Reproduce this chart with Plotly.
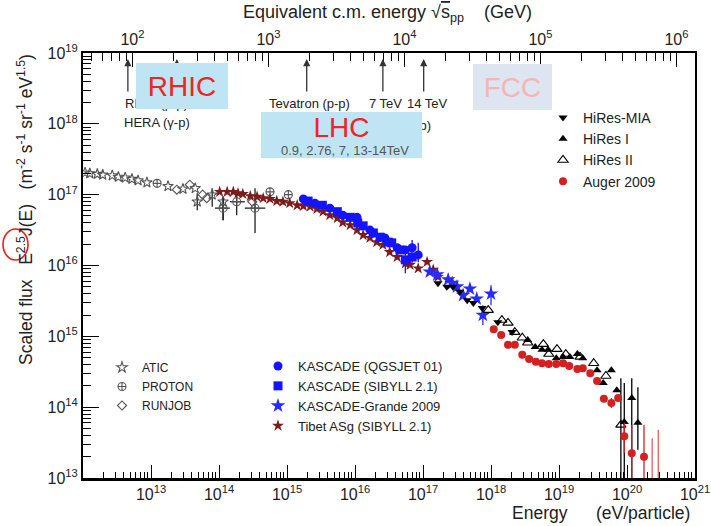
import math
import plotly.graph_objects as go

# ---------------- Data (log10 values) ----------------
# x: log10(E / eV), y: log10(E^2.5 J(E))
atic_loge = [12.03, 12.10, 12.21, 12.29, 12.43, 12.52, 12.62, 12.72, 12.81, 12.94, 13.25, 13.47, 13.65, 13.68, 13.90, 14.06]
atic_logf = [17.31, 17.30, 17.29, 17.28, 17.27, 17.25, 17.24, 17.22, 17.20, 17.17, 17.12, 17.08, 17.09, 16.90, 17.00, 16.90]
atic_hi = [None] * 13 + [17.02, 17.09, 16.97]
atic_lo = [None] * 13 + [16.78, 16.83, 16.64]

proton_loge = [13.09, 14.06, 14.26, 14.53, 14.75, 15.02]
proton_logf = [17.16, 16.81, 16.90, 16.81, 17.04, 17.00]
proton_hi = [None, 16.95, 17.02, 17.09, None, None]
proton_lo = [None, 16.64, 16.71, 16.46, None, None]
proton_xlo = [None, 13.94, 14.16, 14.38, None, None]
proton_xhi = [None, 14.16, 14.38, 14.68, None, None]

runjob_loge = [13.38, 13.57, 13.76, 13.82, 14.49]
runjob_logf = [17.07, 17.14, 17.00, 16.95, 16.90]

tibet_loge = [14.01, 14.12, 14.21, 14.28, 14.35, 14.46, 14.56, 14.65, 14.75, 14.85, 14.94, 15.04, 15.15, 15.24,
              15.34, 15.44, 15.53, 15.63, 15.74, 15.82, 15.93, 16.03, 16.12, 16.22, 16.32, 16.41, 16.51, 16.62,
              16.74, 16.81, 16.93, 17.06, 17.15, 17.22]
tibet_logf = [17.04, 17.04, 17.04, 17.02, 17.01, 16.98, 16.97, 16.95, 16.94, 16.91, 16.90, 16.88, 16.85, 16.84,
              16.83, 16.80, 16.76, 16.71, 16.67, 16.61, 16.57, 16.50, 16.43, 16.39, 16.33, 16.29, 16.19, 16.12,
              16.03, 16.01, 15.96, 16.05, 15.94, 15.84]

kq_loge = [15.24, 15.41, 15.63, 15.82, 16.03, 16.22, 16.44, 16.62, 16.74, 16.84, 16.93]
kq_logf = [16.94, 16.88, 16.81, 16.71, 16.68, 16.50, 16.39, 16.25, 16.22, 16.25, 16.15]
kq_hi = [None] * 9 + [16.36, 16.32]
kq_lo = [None] * 9 + [16.04, 16.05]

ks_loge = [15.31, 15.52, 15.74, 15.93, 16.04, 16.12, 16.27, 16.37, 16.49, 16.54, 16.66, 16.74, 16.84]
ks_logf = [16.91, 16.85, 16.76, 16.68, 16.60, 16.56, 16.46, 16.40, 16.33, 16.32, 16.22, 16.08, 16.12]
ks_hi = [None] * 11 + [16.19, None]
ks_lo = [None] * 11 + [15.89, None]

kg_loge = [17.10, 17.21, 17.37, 17.43, 17.50, 17.59, 17.69, 17.79, 17.88, 18.00]
kg_logf = [15.91, 15.87, 15.80, 15.75, 15.70, 15.58, 15.67, 15.53, 15.30, 15.60]
kg_hi = [None] * 8 + [15.44, 15.72]
kg_lo = [None] * 8 + [15.16, 15.44]

mia_loge = [17.22, 17.35, 17.44, 17.54, 17.65, 17.74, 17.87, 18.10, 18.31]
mia_logf = [15.75, 15.70, 15.70, 15.63, 15.51, 15.47, 15.40, 15.20, 15.06]

hr1_loge = [18.54, 18.65, 18.75, 18.84, 18.96, 19.06, 19.16, 19.27, 19.35, 19.56, 19.65, 19.77, 19.85, 19.96, 20.07, 20.16]
hr1_logf = [14.95, 14.85, 14.81, 14.81, 14.69, 14.71, 14.71, 14.75, 14.69, 14.52, 14.34, 14.52, 14.24, 13.79, 14.13, 13.78]
hr1_hi = [None] * 13 + [14.34, 14.41, 14.28]
hr1_lo = [None] * 13 + [12.9, 12.9, 13.40]

hr2_loge = [17.96, 18.16, 18.25, 18.35, 18.46, 18.54, 18.77, 18.85, 18.97, 19.10, 19.31, 19.51, 19.69, 19.91]
hr2_logf = [15.37, 15.23, 15.19, 15.06, 14.98, 14.91, 14.89, 14.75, 14.82, 14.75, 14.71, 14.62, 14.44, 13.75]
hr2_hi = [None] * 13 + [14.41]
hr2_lo = [None] * 13 + [12.9]

auger_loge = [18.04, 18.15, 18.25, 18.35, 18.46, 18.56, 18.66, 18.75, 18.85, 18.96, 19.06, 19.15, 19.27, 19.35,
              19.46, 19.56, 19.66, 19.77, 19.87, 19.96, 20.07, 20.25]
auger_logf = [15.10, 15.02, 14.88, 14.88, 14.74, 14.68, 14.64, 14.62, 14.61, 14.61, 14.62, 14.58, 14.54, 14.55,
              14.48, 14.37, 14.12, 14.06, 14.13, 13.59, 13.35, 13.30]
auger_hi = [None] * 17 + [14.13, None, 13.78, 13.75, 13.75]
auger_lo = [None] * 17 + [13.99, None, 13.35, 12.9, 12.9]

auger_lim_loge = [20.37, 20.46]
auger_lim_top = [13.56, 13.68]

# collider equivalent energies (log10 E/eV) marked with arrows
collider_loge = [12.66, 13.38, 15.29, 16.41, 17.01]

x_ticks = [13, 14, 15, 16, 17, 18, 19, 20, 21]
y_ticks = [13, 14, 15, 16, 17, 18, 19]
top_ticks = [2, 3, 4, 5, 6]

# ---------------- Layout geometry ----------------
W, H = 711, 526
ML, MR, MT, MB = 83, 16, 53, 48
PW = W - ML - MR
PH = H - MT - MB


def px(x):
    return (x - ML) / PW


def py(y):
    return (MT + PH - y) / PH


FONT = "Liberation Sans, Arial, Helvetica, sans-serif"
MP = 0.938  # proton mass GeV


def top_log(loge):
    return 0.5 * (math.log10(2 * MP) + loge - 9)


def lin(vals):
    return [10.0 ** v for v in vals]


def err_plus(vals, hi):
    return [0.0 if h is None else 10.0 ** h - 10.0 ** v for v, h in zip(vals, hi)]


def err_minus(vals, lo):
    return [0.0 if l is None else 10.0 ** v - 10.0 ** l for v, l in zip(vals, lo)]


fig = go.Figure()


def series(name, loge, logf, symbol, color, size, legend, hi=None, lo=None, xlo=None, xhi=None,
           open_=False, errcolor=None):
    kw = {}
    ec = errcolor or color
    if hi is not None:
        kw["error_y"] = dict(type="data", symmetric=False, array=err_plus(logf, hi),
                             arrayminus=err_minus(logf, lo), color=ec, thickness=1.3, width=0)
    if xlo is not None:
        kw["error_x"] = dict(type="data", symmetric=False, array=err_plus(loge, xhi),
                             arrayminus=err_minus(loge, xlo), color=ec, thickness=1.3, width=0)
    fig.add_trace(go.Scatter(
        x=lin(loge), y=lin(logf), mode="markers", name=name, legend=legend,
        marker=dict(symbol=symbol, color=color, size=size,
                    line=dict(width=1.1 if open_ else 0, color=color)),
        **kw))


# error-only traces for upper-limit bars
fig.add_trace(go.Scatter(
    x=lin(auger_lim_loge), y=lin(auger_lim_top), mode="markers", showlegend=False,
    marker=dict(size=1, color="rgba(0,0,0,0)"),
    error_y=dict(type="data", symmetric=False, array=[0.0, 0.0],
                 arrayminus=err_minus(auger_lim_top, [12.9, 12.9]), color="#e06060", thickness=1.3, width=0)))

series("ATIC", atic_loge, atic_logf, "star-open", "#555555", 8, "legend2", atic_hi, atic_lo, open_=True,
       errcolor="#222222")
series("PROTON", proton_loge, proton_logf, "circle-cross-open", "#555555", 8, "legend2", proton_hi, proton_lo,
       proton_xlo, proton_xhi, open_=True, errcolor="#222222")
series("RUNJOB", runjob_loge, runjob_logf, "diamond-open", "#555555", 7, "legend2", open_=True)
series("Tibet ASg (SIBYLL 2.1)", tibet_loge, tibet_logf, "star", "#7a1c1c", 9, "legend3")
series("KASCADE (QGSJET 01)", kq_loge, kq_logf, "circle", "#1414ff", 9, "legend3", kq_hi, kq_lo)
series("KASCADE (SIBYLL 2.1)", ks_loge, ks_logf, "square", "#1414ff", 9, "legend3", ks_hi, ks_lo)
series("KASCADE-Grande 2009", kg_loge, kg_logf, "star", "#2a2aff", 11, "legend3", kg_hi, kg_lo)
series("HiRes-MIA", mia_loge, mia_logf, "triangle-down", "#000000", 8, "legend")
series("HiRes I", hr1_loge, hr1_logf, "triangle-up", "#000000", 8, "legend", hr1_hi, hr1_lo)
series("HiRes II", hr2_loge, hr2_logf, "triangle-up-open", "#000000", 9, "legend", hr2_hi, hr2_lo, open_=True)
series("Auger 2009", auger_loge, auger_logf, "circle", "#d42020", 8, "legend", auger_hi, auger_lo)

# dummy trace to bind the top axis
fig.add_trace(go.Scatter(x=[], y=[], xaxis="x2", yaxis="y", showlegend=False))

legend_order = {"legend": ["HiRes-MIA", "HiRes I", "HiRes II", "Auger 2009"],
                "legend2": ["ATIC", "PROTON", "RUNJOB"],
                "legend3": ["KASCADE (QGSJET 01)", "KASCADE (SIBYLL 2.1)", "KASCADE-Grande 2009",
                            "Tibet ASg (SIBYLL 2.1)"]}
for t in fig.data:
    for lg, names in legend_order.items():
        if t.name in names:
            t.legendrank = 1000 + names.index(t.name)


def sup(n):
    return f"10<sup>{n}</sup>"


def minor_vals(lo, hi):
    return [k * 10.0 ** n for n in range(lo, hi) for k in range(2, 10)]


tickfont = dict(family=FONT, size=16, color="#222222")

fig.update_layout(
    width=W, height=H,
    margin=dict(l=ML, r=MR, t=MT, b=MB, pad=0, autoexpand=False),
    paper_bgcolor="white", plot_bgcolor="white",
    font=dict(family=FONT, color="#222222"),
    xaxis=dict(type="log", range=[12, 21], autorange=False, automargin=False,
               tickmode="array", tickvals=lin(x_ticks), ticktext=[sup(v) for v in x_ticks],
               ticks="inside", ticklen=13, tickwidth=1.3, tickcolor="black",
               minor=dict(tickmode="array", tickvals=minor_vals(12, 21), ticks="inside", ticklen=6,
                          tickwidth=1.1, tickcolor="black", showgrid=False),
               showline=True, linewidth=3, linecolor="black", showgrid=False, zeroline=False,
               tickfont=tickfont, tickangle=0),
    xaxis2=dict(type="log", overlaying="x", side="top", anchor="y", autorange=False, automargin=False,
                range=[top_log(12), top_log(21)],
                tickmode="array", tickvals=lin(top_ticks), ticktext=[sup(v) for v in top_ticks],
                ticks="inside", ticklen=14, tickwidth=1.3, tickcolor="black",
                minor=dict(tickmode="array", tickvals=minor_vals(1, 6), ticks="inside", ticklen=8,
                           tickwidth=1.1, tickcolor="black", showgrid=False),
                showline=True, linewidth=1.5, linecolor="black", showgrid=False, zeroline=False,
                tickfont=tickfont, tickangle=0),
    yaxis=dict(type="log", range=[13, 19], autorange=False, automargin=False,
               tickmode="array", tickvals=lin(y_ticks), ticktext=[sup(v) for v in y_ticks],
               ticks="inside", ticklen=16, tickwidth=1.3, tickcolor="black",
               minor=dict(tickmode="array", tickvals=minor_vals(13, 19), ticks="inside", ticklen=8,
                          tickwidth=1.1, tickcolor="black", showgrid=False),
               showline=True, linewidth=2, linecolor="black", mirror=True, showgrid=False, zeroline=False,
               tickfont=tickfont),
    legend=dict(x=px(543), y=py(102), xanchor="left", yanchor="top", bgcolor="rgba(0,0,0,0)",
                font=dict(family=FONT, size=14, color="#222222"), borderwidth=0),
    legend2=dict(x=px(102), y=py(353), xanchor="left", yanchor="top", bgcolor="rgba(0,0,0,0)",
                 font=dict(family=FONT, size=12, color="#222222"), borderwidth=0),
    legend3=dict(x=px(258), y=py(351), xanchor="left", yanchor="top", bgcolor="rgba(0,0,0,0)",
                 font=dict(family=FONT, size=13, color="#222222"), borderwidth=0),
    showlegend=True,
)

ann = []
NB = "\u00a0"
ann.append(dict(text=f"Equivalent c.m. energy √<span style='text-decoration:overline'>s</span><sub>pp</sub>{NB*4}(GeV)",
                x=px(387), y=py(14), xref="paper", yref="paper", showarrow=False,
                font=dict(family=FONT, size=18, color="#222222"), xanchor="center", yanchor="middle"))
ann.append(dict(text="Energy", x=px(540), y=py(513), xref="paper", yref="paper", showarrow=False,
                font=dict(family=FONT, size=17.5, color="#222222"), xanchor="center", yanchor="middle"))
ann.append(dict(text="(eV/particle)", x=px(643), y=py(513), xref="paper", yref="paper", showarrow=False,
                font=dict(family=FONT, size=17.5, color="#222222"), xanchor="center", yanchor="middle"))
ann.append(dict(text=f"Scaled flux{NB*3}E<sup>2.5</sup>J(E){NB*3}(m<sup>-2</sup>{NB}s<sup>-1</sup>{NB}sr<sup>-1</sup>{NB}eV<sup>1.5</sup>)",
                x=px(25), y=py(210), xref="paper", yref="paper", showarrow=False, textangle=-90,
                font=dict(family=FONT, size=17.5, color="#222222"), xanchor="center", yanchor="middle"))

for le in collider_loge:
    ann.append(dict(x=le, y=py(59), xref="x", yref="paper", text="", showarrow=True,
                    ax=0, ay=34, arrowhead=2, arrowsize=1.1, arrowwidth=1.3, arrowcolor="#333333"))

small = dict(family=FONT, size=13, color="#222222")
labels = [("RHIC (p-p)", 123, 103), ("HERA (γ-p)", 122, 122), ("Tevatron (p-p)", 267, 103),
          ("7 TeV", 367, 103), ("14 TeV", 405, 103)]
for txt, x0, y0 in labels:
    ann.append(dict(text=txt, x=px(x0), y=py(y0), xref="paper", yref="paper", showarrow=False,
                    xanchor="left", yanchor="middle", font=small))
ann.append(dict(text="LHC (p-p)", x=px(433), y=py(125), xref="paper", yref="paper", showarrow=False,
                xanchor="right", yanchor="middle", font=small))

BOXFONT = "Liberation Sans, Arial, sans-serif"


def box(text, x0, x1, y0, y1, bg, color, size=28, valign="middle"):
    ann.append(dict(text=text, x=px((x0 + x1) / 2), y=py((y0 + y1) / 2), xref="paper", yref="paper",
                    showarrow=False, xanchor="center", yanchor="middle", width=x1 - x0, height=y1 - y0,
                    bgcolor=bg, borderpad=0, borderwidth=0, valign=valign,
                    font=dict(family=BOXFONT, size=size, color=color)))


box("RHIC", 136, 228, 63, 109, "#bfe4f4", "#f02424")
box("LHC", 261, 422, 112, 158, "#bfe4f4", "#f02424", valign="top")
ann.append(dict(text="0.9, 2.76, 7, 13-14TeV", x=px(345), y=py(150), xref="paper", yref="paper",
                showarrow=False, xanchor="center", yanchor="middle",
                font=dict(family=BOXFONT, size=13, color="#555555")))
box("FCC", 473, 552, 64, 110, "#dde6f0", "#f5b5b5")

fig.update_layout(annotations=ann)

fig.add_shape(type="circle", xref="paper", yref="paper",
              x0=px(3), x1=px(28), y0=py(260), y1=py(229),
              line=dict(color="#ee1c1c", width=1.6))

fig.write_html("out.html", config={"displayModeBar": False},
               post_script="document.body.style.margin='0px';")
